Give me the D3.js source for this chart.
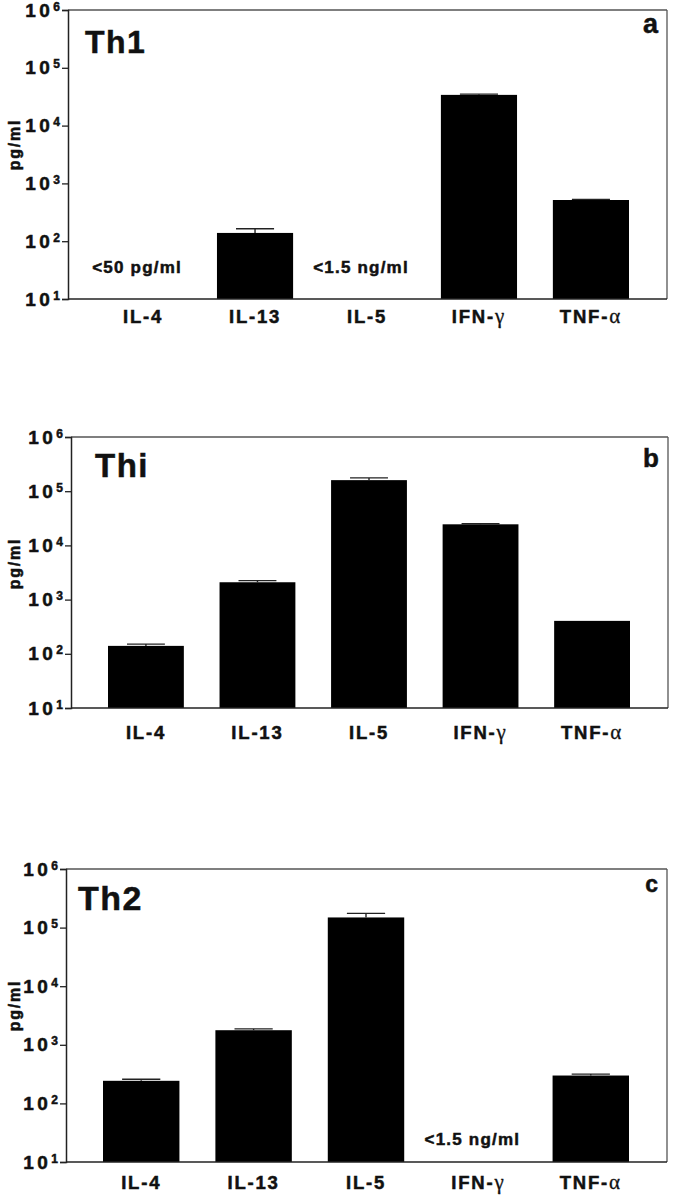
<!DOCTYPE html>
<html>
<head>
<meta charset="utf-8">
<script src="https://cdn.jsdelivr.net/npm/d3@7"></script>
<style>
  html, body { margin: 0; padding: 0; background: #fff; }
  svg { display: block; }
  text { font-family: "Liberation Sans", Arial, Helvetica, sans-serif; font-weight: bold; fill: #111; stroke: #111; stroke-width: 0.5px; }
</style>
</head>
<body>
<script>
// ---------- data ----------
const categories = ["IL-4", "IL-13", "IL-5", "IFN-γ", "TNF-α"];
const yTickValues = [1e1, 1e2, 1e3, 1e4, 1e5, 1e6];
const yTickExponents = ["1", "2", "3", "4", "5", "6"];
const panelNames = ["Th1", "Thi", "Th2"];
const panelLetters = ["a", "b", "c"];

// mean values (pg/ml); null = below detection
const th1Values = [null, 139, null, 34000, 516];
const th1Upper  = [null, 164, null, 35000, 530];
const thiValues = [140, 2090, 160000, 24500, 405];
const thiUpper  = [151, 2240, 176000, 25100, null];
const th2Values = [243, 1774, 149000, null, 299];
const th2Upper  = [259, 1866, 175000, null, 316];

// notes for undetectable values: [category, text]
const th1Notes = [["IL-4", "<50 pg/ml"], ["IL-5", "<1.5 ng/ml"]];
const thiNotes = [];
const th2Notes = [["IFN-γ", "<1.5 ng/ml"]];

// ---------- layout ----------
const W = 675, H = 1199;
const svg = d3.select("body").append("svg").attr("width", W).attr("height", H);

const panels = [
  { values: th1Values, upper: th1Upper, notes: th1Notes,
    left: 68, right: 667, top: 10, bottom: 299,
    catDy: 24, noteDy: -26, nameX: 17, nameDy: 43, nameSize: 32,
    letterDy: 23, letterSize: 27, titleDy: -10 },
  { values: thiValues, upper: thiUpper, notes: thiNotes,
    left: 71, right: 668, top: 437, bottom: 708,
    catDy: 31, noteDy: -26, nameX: 24, nameDy: 40, nameSize: 33,
    letterDy: 30, letterSize: 26, titleDy: -9 },
  { values: th2Values, upper: th2Upper, notes: th2Notes,
    left: 66, right: 667, top: 869, bottom: 1162,
    catDy: 27, noteDy: -17, nameX: 12, nameDy: 41, nameSize: 34,
    letterDy: 23, letterSize: 23, titleDy: -10 }
];

panels.forEach((p, i) => {
  const g = svg.append("g");

  const x = d3.scaleBand()
    .domain(categories)
    .range([p.left + 37, p.right - 38])
    .paddingInner(0.32)
    .paddingOuter(0);

  const y = d3.scaleLog()
    .domain([1e1, 1e6])
    .range([p.bottom, p.top]);

  // frame: top and right lighter
  g.append("line")
    .attr("x1", p.left).attr("x2", p.right)
    .attr("y1", p.top).attr("y2", p.top)
    .attr("stroke", "#555").attr("stroke-width", 1.3);
  g.append("line")
    .attr("x1", p.right).attr("x2", p.right)
    .attr("y1", p.top).attr("y2", p.bottom)
    .attr("stroke", "#555").attr("stroke-width", 1.3);

  // bars
  const data = categories.map((c, k) => ({ c, v: p.values[k], u: p.upper[k] }))
    .filter(d => d.v !== null);
  const errData = data.filter(d => d.u !== null);

  g.selectAll("rect.bar").data(data).enter().append("rect")
    .attr("class", "bar")
    .attr("x", d => x(d.c))
    .attr("width", x.bandwidth())
    .attr("y", d => y(d.v))
    .attr("height", d => y(1e1) - y(d.v))
    .attr("fill", "#000");

  // error bars
  g.selectAll("line.err").data(errData).enter().append("line")
    .attr("class", "err")
    .attr("x1", d => x(d.c) + x.bandwidth() / 2)
    .attr("x2", d => x(d.c) + x.bandwidth() / 2)
    .attr("y1", d => y(d.v))
    .attr("y2", d => y(d.u))
    .attr("stroke", "#222").attr("stroke-width", 1.4);
  g.selectAll("line.cap").data(errData).enter().append("line")
    .attr("class", "cap")
    .attr("x1", d => x(d.c) + x.bandwidth() / 4)
    .attr("x2", d => x(d.c) + x.bandwidth() * 3 / 4)
    .attr("y1", d => y(d.u))
    .attr("y2", d => y(d.u))
    .attr("stroke", "#222").attr("stroke-width", 1.4);

  // y axis
  const yAxis = d3.axisLeft(y)
    .tickValues(yTickValues)
    .tickSize(6)
    .tickFormat(() => "");
  const ya = g.append("g").attr("transform", `translate(${p.left},0)`).call(yAxis);
  ya.select(".domain").attr("stroke", "#222").attr("stroke-width", 1.5);
  ya.selectAll(".tick line").attr("stroke", "#222").attr("stroke-width", 1.3);

  // tick labels: 10 with superscript
  yTickValues.forEach((t, k) => {
    const tx = g.append("text")
      .attr("x", p.left - 8)
      .attr("y", y(t) + 6.5)
      .attr("text-anchor", "end")
      .style("font-size", "19px");
    tx.append("tspan").text("10").style("letter-spacing", "3.5px");
    tx.append("tspan").text(yTickExponents[k])
      .attr("dy", -6).style("font-size", "12px");
  });

  // x axis
  const xAxis = d3.axisBottom(x).tickSize(0).tickFormat(() => "");
  const xa = g.append("g").attr("transform", `translate(0,${p.bottom})`).call(xAxis);
  xa.select(".domain").remove();
  g.append("line")
    .attr("x1", p.left).attr("x2", p.right)
    .attr("y1", p.bottom).attr("y2", p.bottom)
    .attr("stroke", "#222").attr("stroke-width", 1.5);

  // category labels
  categories.forEach(c => {
    const t = g.append("text")
      .attr("x", x(c) + x.bandwidth() / 2)
      .attr("y", p.bottom + p.catDy)
      .attr("text-anchor", "middle")
      .style("font-size", "18.5px")
      .style("letter-spacing", "1.8px");
    const m = c.match(/^(.*-)([γα])$/);
    if (m) {
      t.append("tspan").text(m[1]);
      t.append("tspan").text(m[2])
        .style("font-family", "'Liberation Serif', 'Times New Roman', serif")
        .style("font-weight", "normal")
        .style("stroke-width", "0.3px")
        .style("font-size", "21px");
    } else {
      t.text(c);
    }
  });

  // notes
  p.notes.forEach(([c, txt]) => {
    g.append("text")
      .attr("x", x(c) + x.bandwidth() / 2 - 6)
      .attr("y", p.bottom + p.noteDy)
      .attr("text-anchor", "middle")
      .style("font-size", "17px")
      .style("letter-spacing", "1.2px")
      .text(txt);
  });

  // y title
  g.append("text")
    .attr("transform", `translate(20,${(p.top + p.bottom) / 2 + p.titleDy}) rotate(-90)`)
    .attr("text-anchor", "middle")
    .style("font-size", "16px")
    .style("letter-spacing", "1.8px")
    .text("pg/ml");

  // panel name
  g.append("text")
    .attr("x", p.left + p.nameX)
    .attr("y", p.top + p.nameDy)
    .style("font-size", p.nameSize + "px")
    .style("letter-spacing", "1.5px")
    .text(panelNames[i]);

  // panel letter
  g.append("text")
    .attr("x", p.right - 9)
    .attr("y", p.top + p.letterDy)
    .attr("text-anchor", "end")
    .style("font-size", p.letterSize + "px")
    .text(panelLetters[i]);
});
</script>
</body>
</html>
